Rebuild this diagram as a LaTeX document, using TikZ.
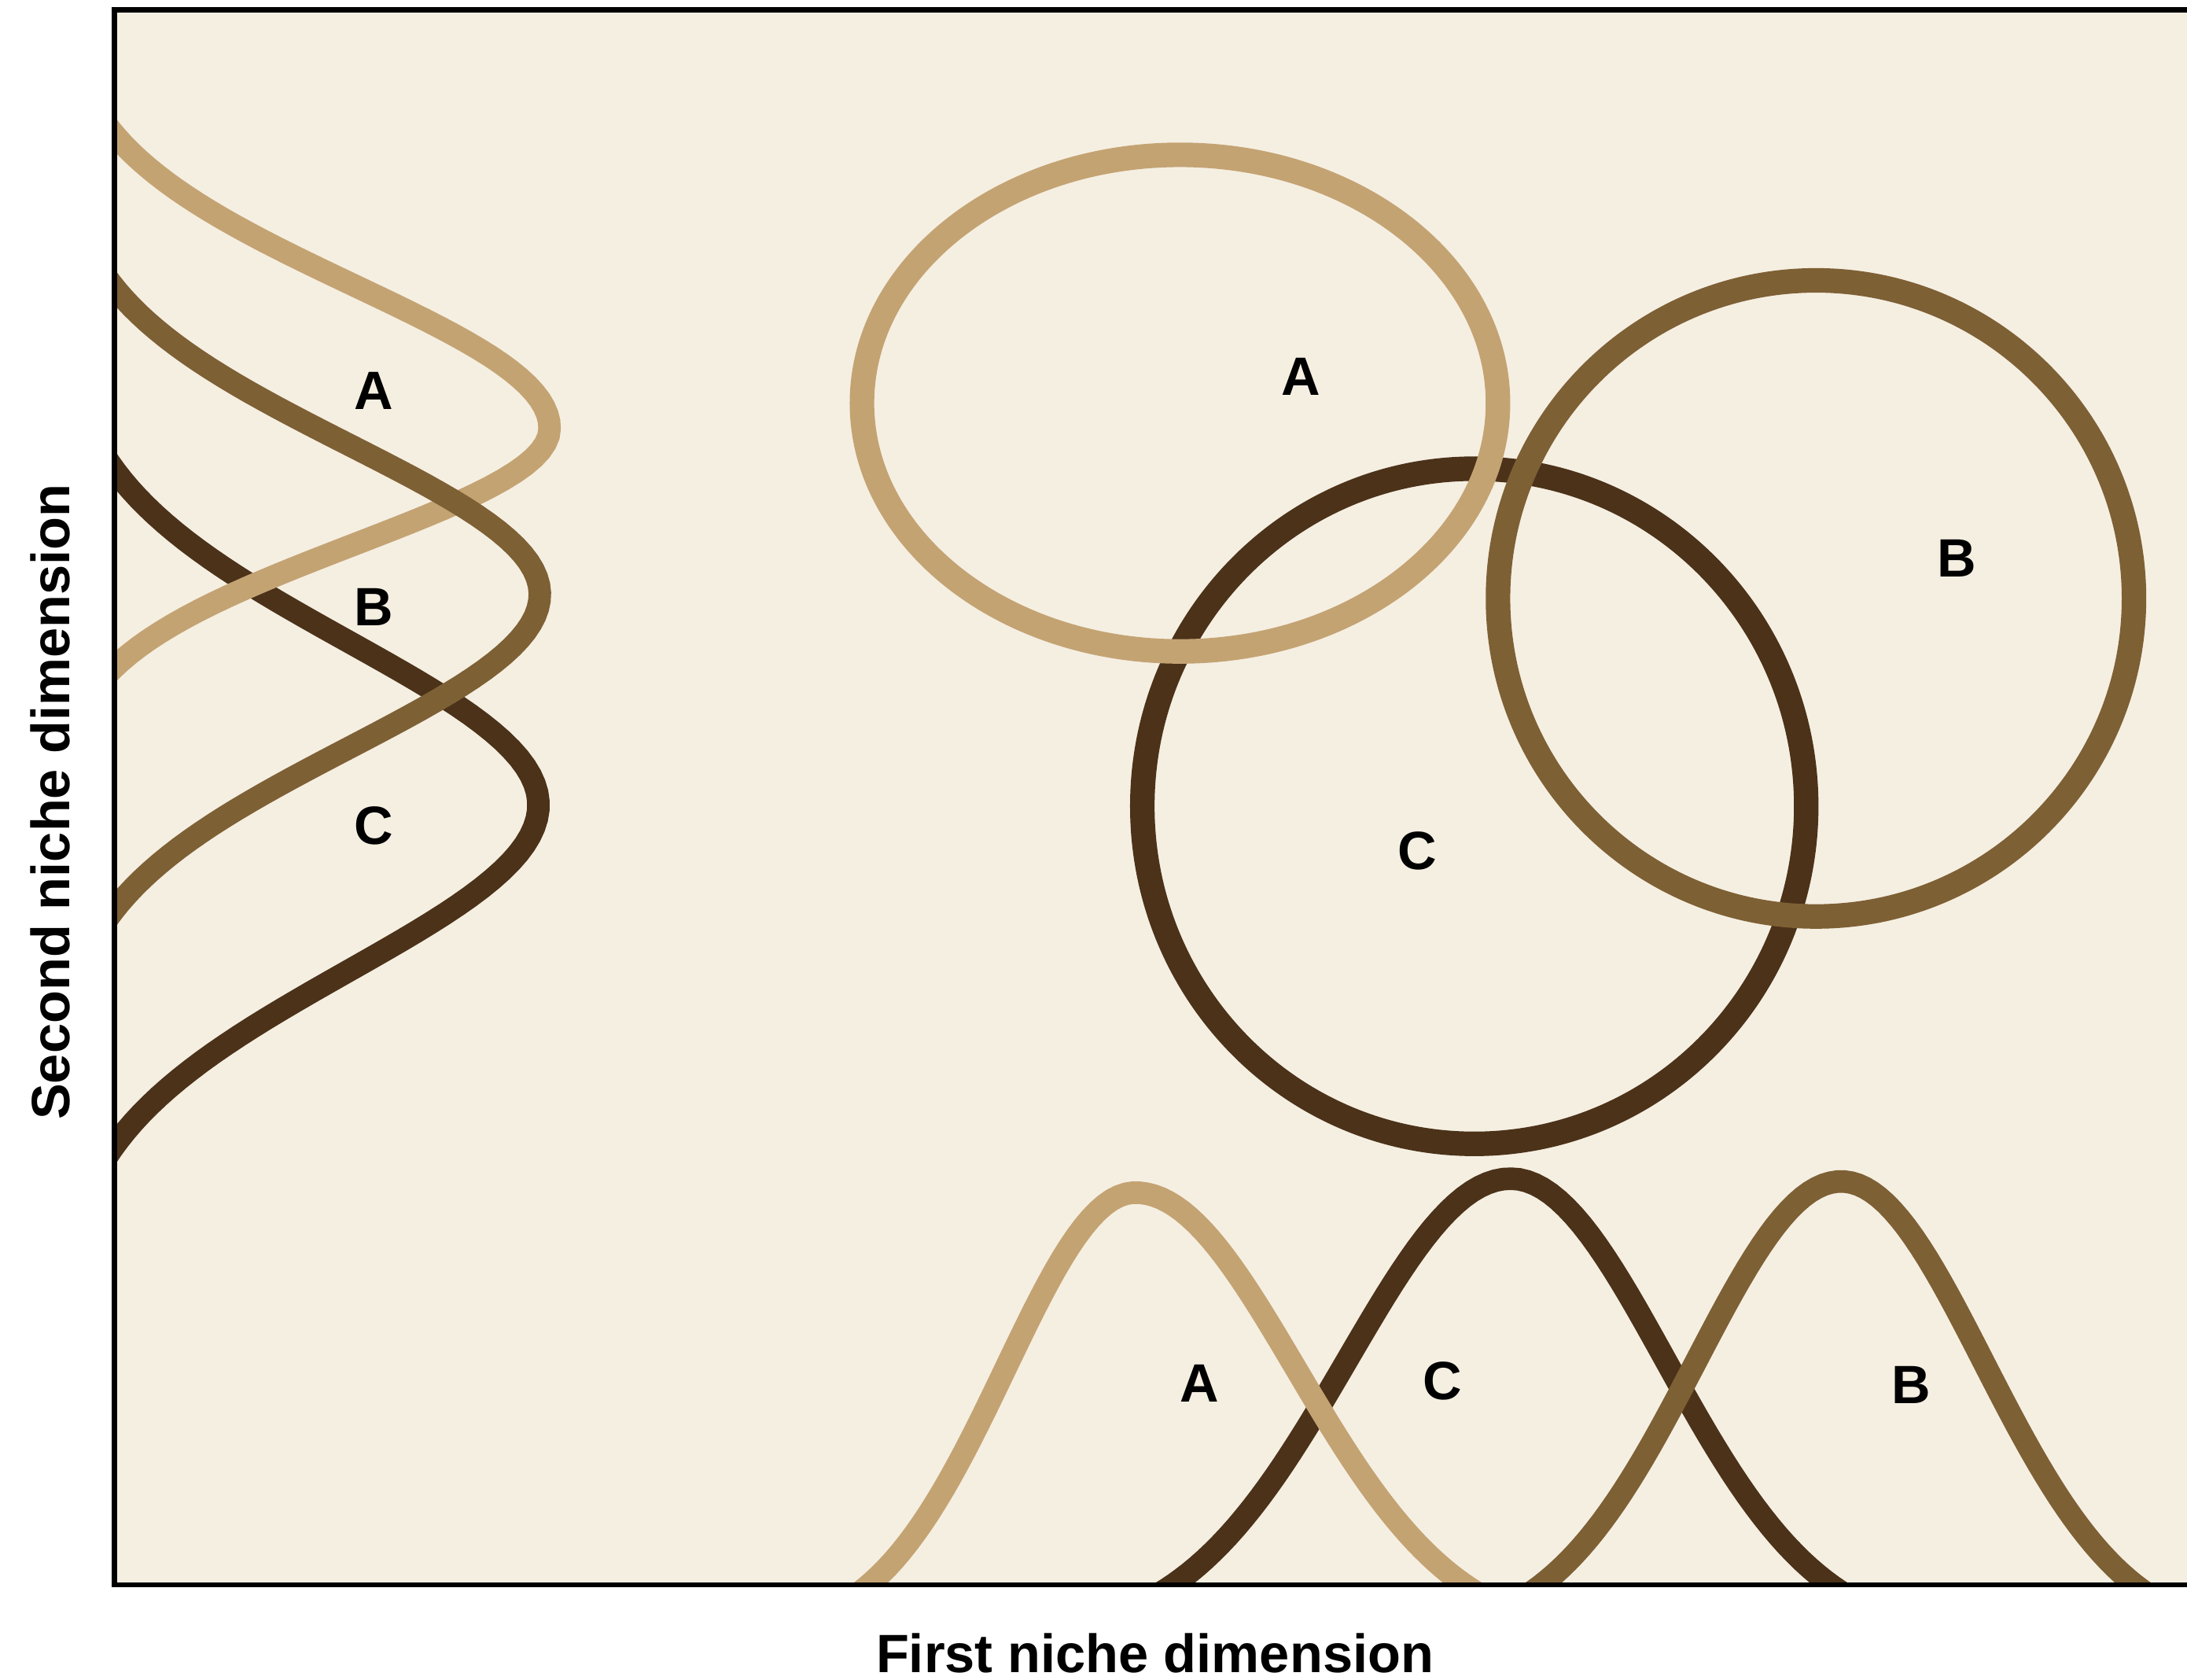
\documentclass[tikz,border=0pt]{standalone}
\usepackage{fontspec}
\setmainfont{Liberation Sans}
\usepackage{tikz}

\definecolor{nicheA}{HTML}{C4A373}
\definecolor{nicheB}{HTML}{7E6035}
\definecolor{nicheC}{HTML}{4B3219}
\definecolor{paper}{HTML}{F5EFE2}

\begin{document}
\begin{tikzpicture}[x=0.01cm,y=-0.01cm,
    declare function={bell(\t,\m,\sa,\sb)=exp(-0.5*((\t-\m)/((\t<\m)?\sa:\sb))^2);},
    curve/.style={line width=4.6pt,samples=120},
    ring/.style={line width=5pt},
    lbl/.style={font=\fontsize{11}{13}\selectfont\bfseries,inner sep=0pt}]
  \useasboundingbox (0,0) rectangle (1568,1204);
  \fill[paper] (82,7) rectangle (1568,1136);

  \begin{scope}
    \clip (82,7) rectangle (1568,1136);
    % bells along the second dimension (x = 40 + height)
    \draw[curve,nicheC] plot[domain=220:960] ({40+346*bell(\x,577,117,119)},\x);
    \draw[curve,nicheA] plot[domain=0:620] ({40+354*bell(\x,307,102,83)},\x);
    \draw[curve,nicheB] plot[domain=120:780] ({40+347*bell(\x,426,107,110)},\x);

    % bells along the first dimension (y = 1175 - height)
    \draw[curve,nicheC] plot[domain=740:1410] (\x,{1175-330*bell(\x,1083,117,111)});
    \draw[curve,nicheA] plot[domain=540:1140] (\x,{1175-320*bell(\x,814,93,115)});
    \draw[curve,nicheB] plot[domain=1010:1600] (\x,{1175-328*bell(\x,1320,104,102)});

    % both dimensions together
    \draw[ring,nicheC] (1057,578) ellipse [x radius=238, y radius=242];
    \draw[ring,nicheB] (1302,429) ellipse [x radius=228, y radius=228];
    \draw[ring,nicheA] (846,289) ellipse [x radius=228, y radius=178];
  \end{scope}

  \draw[line width=1pt] (1568,7) -| (82,1136) -- (1568,1136);

  \node[lbl] (sideA) at (268,280) {A};
  \node[lbl] (sideB) at (268,435) {B};
  \node[lbl] (sideC) at (268,592) {C};
  \node[lbl] (ringA) at (933,270) {A};
  \node[lbl] (ringB) at (1403,400) {B};
  \node[lbl] (ringC) at (1016,610) {C};
  \node[lbl] (baseA) at (860,992) {A};
  \node[lbl] (baseC) at (1034,990) {C};
  \node[lbl] (baseB) at (1370,993) {B};

  \node[lbl] (xlabel) at (828,1185) {First niche dimension};
  \node[lbl,rotate=90] (ylabel) at (36,575) {Second niche dimension};
\end{tikzpicture}
\end{document}
